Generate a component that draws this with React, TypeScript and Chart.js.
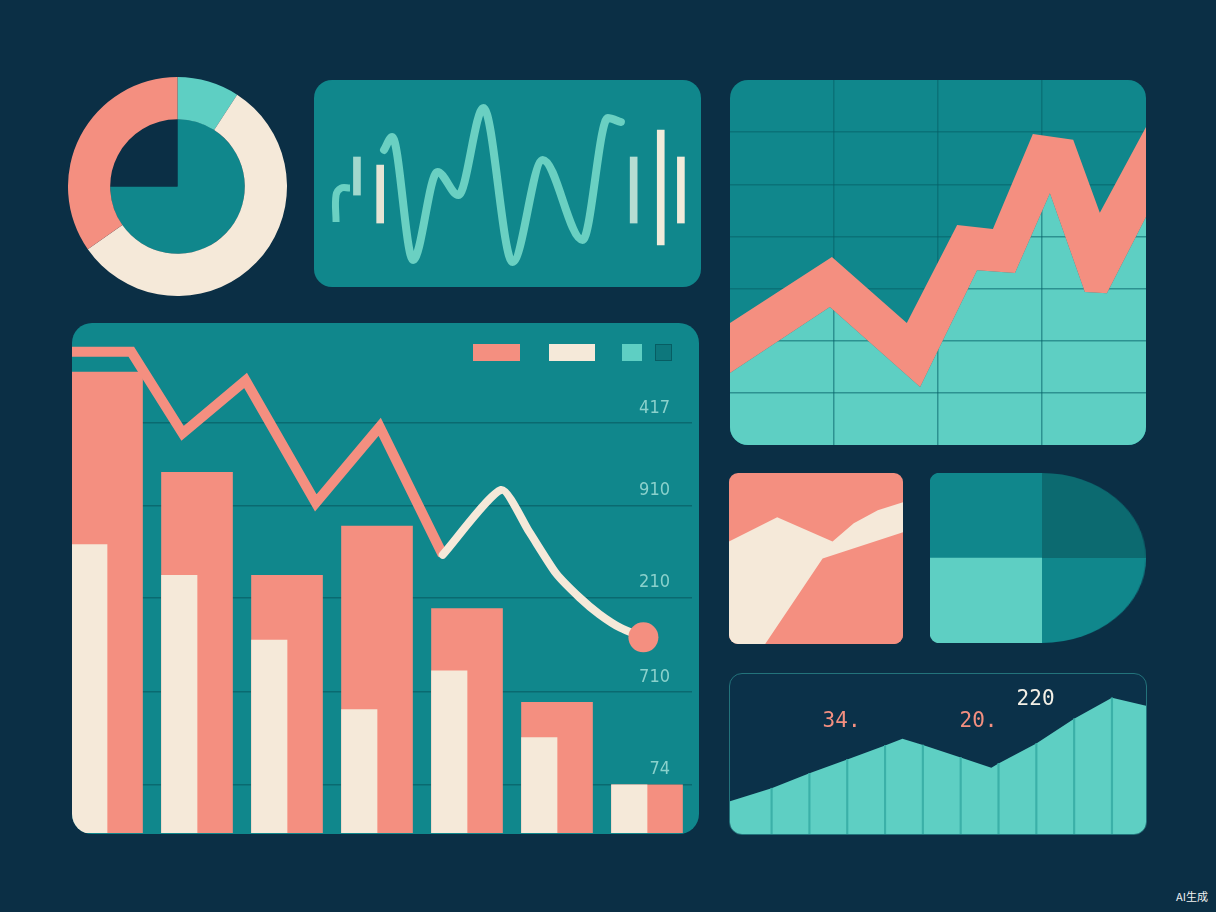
import React, { useEffect, useRef } from 'react'
import { Chart, registerables, type ChartConfiguration, type Plugin } from 'chart.js'

Chart.register(...registerables)

// palette
const NAVY = '#0b2f45'
const TEAL = '#10878c'
const TEAL_DARK = '#0c6a70'
const CORAL = '#f48f80'
const CREAM = '#f5e9d9'
const MINT = '#5ecfc3'
const WAVE = '#6ad0c2'

// donut, top left
const ringLabels = ['mint', 'cream', 'coral']
const ringValues = [33, 202, 125]
const coreLabels = ['teal', 'navy']
const coreValues = [270, 90]

// waveform panel (0..100 both ways)
const waveX = [18.1, 20.2, 25.6, 31.9, 37.3, 43.8, 51.3, 59.1, 69.4, 75.9, 79.3]
const waveY = [66.2, 72.5, 13.0, 55.6, 44.4, 86.5, 12.1, 61.4, 22.7, 81.6, 79.7]
const hookX = [5.7, 5.7, 7.0, 9.3]
const hookY = [31.4, 44.4, 47.8, 47.8]
const pulseX = [11.1, 17.1, 82.6, 89.6, 94.8]
const pulseLow = [44.4, 30.9, 30.9, 20.3, 30.9]
const pulseHigh = [62.8, 58.9, 62.8, 75.8, 62.8]

// big bar + line chart (x = group index)
const groups = ['1', '2', '3', '4', '5', '6', '7']
const coralBars = [4.97, 3.89, 2.78, 3.31, 2.42, 1.41, 0.52]
const creamBars = [3.11, 2.78, 2.08, 1.33, 1.75, 1.03, 0.52]
const trendX = [-0.5, 0.27, 0.84, 1.54, 2.32, 3.03, 3.73]
const trendY = [5.19, 5.19, 4.31, 4.88, 3.56, 4.38, 3.0]
const tailX = [3.73, 4.38, 4.69, 4.99, 5.25, 5.47, 5.71, 5.96]
const tailY = [3.0, 3.7, 3.25, 2.8, 2.54, 2.36, 2.21, 2.11]
const tickValues = [0.52, 1.52, 2.54, 3.53, 4.42]
const tickLabels = ['74', '710', '210', '910', '417']
const legendItems = ['coral', 'cream', 'mint', 'teal']

// rising band, top right
const riseTopX = [0, 24.5, 42.5, 54.6, 63.2, 72.8, 82.5, 88.9, 100]
const riseTopY = [33.4, 51.5, 33.4, 60.3, 59.2, 85.2, 83.6, 63.6, 87.1]
const riseBaseX = [0, 24.0, 45.7, 59.4, 68.5, 76.9, 85.3, 90.6, 100]
const riseBaseY = [19.7, 37.8, 15.9, 47.9, 47.1, 69.0, 41.9, 41.6, 62.5]

// small coral square
const ribbonTopX = [0, 27.7, 59.5, 71.7, 85.5, 100]
const ribbonTopY = [60, 74.1, 60, 70.6, 78.2, 82.9]
const ribbonBaseX = [0, 20.8, 53.8, 100]
const ribbonBaseY = [0, 0, 50, 65.3]

// quadrant "D"
const quadLeft = [1, 1]   // bottom, top
const quadRight = [1, 1]  // top, bottom

// bottom area strip
const crestX = [-0.1, 1, 2, 3, 4, 4.46, 5, 6, 6.81, 7, 8, 9, 10, 10.9]
const crestY = [20.5, 28.6, 37.9, 46.6, 55.3, 59.6, 55.6, 47.8, 41.4, 44.1, 56.5, 72, 85.1, 80.1]
const sepX = [1, 2, 3, 4, 5, 6, 7, 8, 9, 10]
const sepTop = [28.6, 37.9, 46.6, 55.3, 55.6, 47.8, 44.1, 56.5, 72, 85.1]
const noteText = ['34.', '20.', '220']
const noteX = [2.85, 6.47, 7.98]
const noteY = [70.2, 70.2, 83.9]

const pulseColors = ['#a2d8cd', '#e6e4d4', '#b5ddd2', '#f1ebda', '#f1ebda']
const legendColors = [CORAL, CREAM, MINT, '#0d777c']
const noteColors = [CORAL, CORAL, '#f4f0e6']

const HALF_SLOT = 0.197 // cream bar sits in the left half of each coral bar

const pairs = (xs: number[], ys: number[]) => xs.map((x, i) => ({ x, y: ys[i] }))
const hidden = (min: number, max: number) => ({ type: 'linear' as const, min, max, display: false, offset: false })

const base: any = {
  responsive: true,
  maintainAspectRatio: false,
  animation: false,
  events: [],
  layout: { padding: 0, autoPadding: false },
  plugins: { legend: { display: false }, tooltip: { enabled: false } },
}

const area = (xs: number[], ys: number[], color: string, order: number, fill: any = 'start') => ({
  data: pairs(xs, ys),
  fill,
  backgroundColor: color,
  borderColor: 'transparent',
  borderWidth: 0,
  pointRadius: 0,
  tension: 0,
  order,
})

const donutConfig = (): ChartConfiguration => ({
  type: 'doughnut',
  data: {
    labels: ringLabels,
    datasets: [
      { data: ringValues, backgroundColor: [MINT, CREAM, CORAL], borderWidth: 0, weight: 42 } as any,
      { data: coreValues, backgroundColor: [TEAL, NAVY], borderWidth: 0, weight: 67, labels: coreLabels } as any,
    ],
  },
  options: { ...base, cutout: 0 },
})

const waveConfig = (): ChartConfiguration => ({
  type: 'line',
  data: {
    datasets: [
      {
        data: pairs(waveX, waveY), borderColor: WAVE, borderWidth: 8, pointRadius: 0,
        cubicInterpolationMode: 'monotone', borderCapStyle: 'round', fill: false,
      },
      { data: pairs(hookX, hookY), borderColor: WAVE, borderWidth: 7, pointRadius: 0, tension: 0.4, fill: false },
      {
        type: 'bar',
        data: pulseX.map((x, i) => ({ x, y: [pulseLow[i], pulseHigh[i]] })) as any,
        backgroundColor: pulseColors, barThickness: 7, borderWidth: 0,
      } as any,
    ],
  },
  options: { ...base, scales: { x: hidden(0, 100), y: hidden(0, 100) } },
})

const mainConfig = (): ChartConfiguration => ({
  type: 'bar',
  data: {
    datasets: [
      {
        label: 'cream', data: groups.map((_g, i) => ({ x: i - HALF_SLOT, y: creamBars[i] })) as any,
        backgroundColor: CREAM, barThickness: 35.5, grouped: false, order: 2,
      },
      {
        label: 'coral', data: groups.map((_g, i) => ({ x: i, y: coralBars[i] })) as any,
        backgroundColor: CORAL, barThickness: 71, grouped: false, order: 3,
      },
      {
        type: 'line', data: pairs(trendX, trendY) as any,
        borderColor: CORAL, borderWidth: 10, pointRadius: 0, tension: 0, borderJoinStyle: 'miter', order: 1,
      } as any,
      {
        type: 'line', data: pairs(tailX, tailY) as any,
        borderColor: CREAM, borderWidth: 8, tension: 0.2, borderCapStyle: 'round',
        pointRadius: (c: any) => (c.dataIndex === tailX.length - 1 ? 15 : 0),
        pointBackgroundColor: CORAL, pointBorderWidth: 0, order: 0,
      } as any,
    ],
  },
  options: {
    ...base,
    datasets: { bar: { borderWidth: 0 } },
    scales: {
      x: hidden(-0.5, 6.5),
      y: {
        min: 0, max: 5.5, position: 'right',
        afterBuildTicks: (s: any) => { s.ticks = tickValues.map(value => ({ value })) },
        afterFit: (s: any) => {
          s.width = 0
          s.paddingTop = 0
          s.paddingBottom = 0
          s.paddingLeft = 0
          s.paddingRight = 0
        },
        ticks: {
          mirror: true, padding: -22, labelOffset: -15, color: 'rgba(160,222,215,0.85)',
          font: { family: '"DejaVu Sans Condensed", "DejaVu Sans", sans-serif', size: 18, weight: 200 as any },
          callback: (_v: any, i: number) => tickLabels[i],
        },
        grid: { color: '#0a6a70', lineWidth: 1.5, drawTicks: false },
        border: { display: false },
      },
    },
  } as any,
})

const edgeless = (c: any) => (c.tick.value <= 0 || c.tick.value >= 99.9 ? 'transparent' : 'rgba(6,96,103,0.55)')

// lower layer: mint area with the grid drawn over it
const riseGridConfig = (): ChartConfiguration => ({
  type: 'line',
  data: { datasets: [area(riseBaseX, riseBaseY, MINT, 1) as any] },
  options: {
    ...base,
    scales: {
      x: {
        type: 'linear', min: 0, max: 100, ticks: { display: false, stepSize: 25 },
        grid: { color: edgeless, lineWidth: 1.5, z: 1, drawTicks: false }, border: { display: false },
      },
      y: {
        type: 'linear', min: 0, max: 100, ticks: { display: false, stepSize: 100 / 7 },
        grid: { color: edgeless, lineWidth: 1.5, z: 1, drawTicks: false }, border: { display: false },
      },
    },
  } as any,
})

// upper layer: the coral band between the two edges
const riseBandConfig = (): ChartConfiguration => ({
  type: 'line',
  data: {
    datasets: [
      { ...area(riseBaseX, riseBaseY, 'transparent', 1, false) } as any,
      area(riseTopX, riseTopY, CORAL, 2, '-1') as any,
    ],
  },
  options: { ...base, scales: { x: hidden(0, 100), y: hidden(0, 100) } },
})

const ribbonConfig = (): ChartConfiguration => ({
  type: 'line',
  data: {
    datasets: [
      area(ribbonBaseX, ribbonBaseY, CORAL, 1) as any,
      area(ribbonTopX, ribbonTopY, CREAM, 2) as any,
    ],
  },
  options: { ...base, scales: { x: hidden(0, 100), y: hidden(0, 100) } },
})

const quadLeftConfig = (): ChartConfiguration => ({
  type: 'bar',
  data: {
    labels: ['q'],
    datasets: [
      { data: [quadLeft[0]], backgroundColor: MINT, borderRadius: { bottomLeft: 10 }, borderSkipped: false },
      { data: [quadLeft[1]], backgroundColor: TEAL, borderRadius: { topLeft: 10 }, borderSkipped: false },
    ],
  } as any,
  options: {
    ...base,
    datasets: { bar: { barPercentage: 1, categoryPercentage: 1, borderWidth: 0 } },
    scales: { x: { display: false, stacked: true }, y: { display: false, stacked: true, min: 0, max: 2 } },
  },
})

const quadRightConfig = (): ChartConfiguration => ({
  type: 'pie',
  data: { datasets: [{ data: quadRight, backgroundColor: [TEAL_DARK, TEAL], borderWidth: 0 }] },
  options: { ...base, rotation: 0, circumference: 180 },
})

const noteLabels: Plugin = {
  id: 'noteLabels',
  afterDatasetsDraw(chart) {
    const { ctx } = chart
    const x = chart.scales.x, y = chart.scales.y
    ctx.save()
    ctx.font = '21px "DejaVu Sans Mono", monospace'
    ctx.textAlign = 'center'
    ctx.textBaseline = 'middle'
    noteText.forEach((t, i) => {
      ctx.fillStyle = noteColors[i]
      ctx.fillText(t, x.getPixelForValue(noteX[i]), y.getPixelForValue(noteY[i]))
    })
    ctx.restore()
  },
}

const crestConfig = (): ChartConfiguration => ({
  type: 'line',
  data: {
    datasets: [
      {
        type: 'bar', data: pairs(sepX, sepTop) as any, backgroundColor: '#3bb0a8',
        barThickness: 1.5, borderWidth: 0, order: 0,
      } as any,
      area(crestX, crestY, MINT, 1) as any,
    ],
  },
  options: { ...base, scales: { x: hidden(-0.1, 10.9), y: hidden(0, 100) } },
  plugins: [noteLabels],
})

function ChartBox({ make, style }: { make: () => ChartConfiguration; style: React.CSSProperties }) {
  const canvasRef = useRef<HTMLCanvasElement>(null)
  const chartRef = useRef<Chart | null>(null)

  useEffect(() => {
    if (!canvasRef.current) return
    chartRef.current?.destroy()
    chartRef.current = new Chart(canvasRef.current, make())
    return () => { chartRef.current?.destroy() }
  }, [])

  return (
    <div style={{ position: 'absolute', ...style }}>
      <canvas ref={canvasRef} />
    </div>
  )
}

const panel = (left: number, top: number, width: number, height: number, extra: React.CSSProperties = {}): React.CSSProperties => ({
  position: 'absolute', left, top, width, height, overflow: 'hidden', boxSizing: 'border-box', ...extra,
})

export default function App() {
  const legendSizes = [47, 46, 20, 17]
  const legendLeft = [401, 477, 550, 583]
  return (
    <div style={{ position: 'fixed', inset: 0, background: NAVY, overflow: 'hidden', fontFamily: 'Roboto, sans-serif' }}>
      <ChartBox make={donutConfig} style={{ left: 68, top: 77, width: 219, height: 219 }} />

      <div style={panel(314, 80, 387, 207, { background: TEAL, borderRadius: 18 })}>
        <ChartBox make={waveConfig} style={{ left: 0, top: 0, width: 387, height: 207 }} />
      </div>

      <div style={panel(730, 80, 416, 365, { background: TEAL, borderRadius: 18 })}>
        <ChartBox make={riseGridConfig} style={{ left: 0, top: 0, width: 416, height: 365 }} />
        <ChartBox make={riseBandConfig} style={{ left: 0, top: 0, width: 416, height: 365 }} />
      </div>

      <div style={panel(72, 323, 627, 511, { background: TEAL, borderRadius: 20 })}>
        <ChartBox make={mainConfig} style={{ left: -10, top: 0, width: 630, height: 510 }} />
        {legendItems.map((name, i) => (
          <span
            key={name}
            title={name}
            style={{
              position: 'absolute', left: legendLeft[i], top: 21, width: legendSizes[i], height: 17,
              background: legendColors[i], boxSizing: 'border-box',
              border: i === 3 ? '1px solid rgba(7,90,96,0.9)' : 'none',
            }}
          />
        ))}
      </div>

      <div style={panel(729, 473, 174, 171, { background: CORAL, borderRadius: 9 })}>
        <ChartBox make={ribbonConfig} style={{ left: 0, top: 0, width: 174, height: 171 }} />
      </div>

      <ChartBox make={quadLeftConfig} style={{ left: 930, top: 473, width: 112, height: 170 }} />
      <ChartBox
        make={quadRightConfig}
        style={{ left: 1042, top: 473, width: 85, height: 170, transform: 'scaleX(1.2235)', transformOrigin: 'left center' }}
      />

      <div style={panel(729, 673, 418, 162, { background: '#0b3149', borderRadius: 13, border: '1.5px solid #23737b' })}>
        <ChartBox make={crestConfig} style={{ left: 0, top: 0, right: 0, bottom: 0 }} />
      </div>

      <div style={{ position: 'absolute', right: 8, top: 888, color: '#f2f2f2', fontSize: 11, fontFamily: '"Noto Sans CJK SC", sans-serif' }}>
        AI生成
      </div>
    </div>
  )
}
